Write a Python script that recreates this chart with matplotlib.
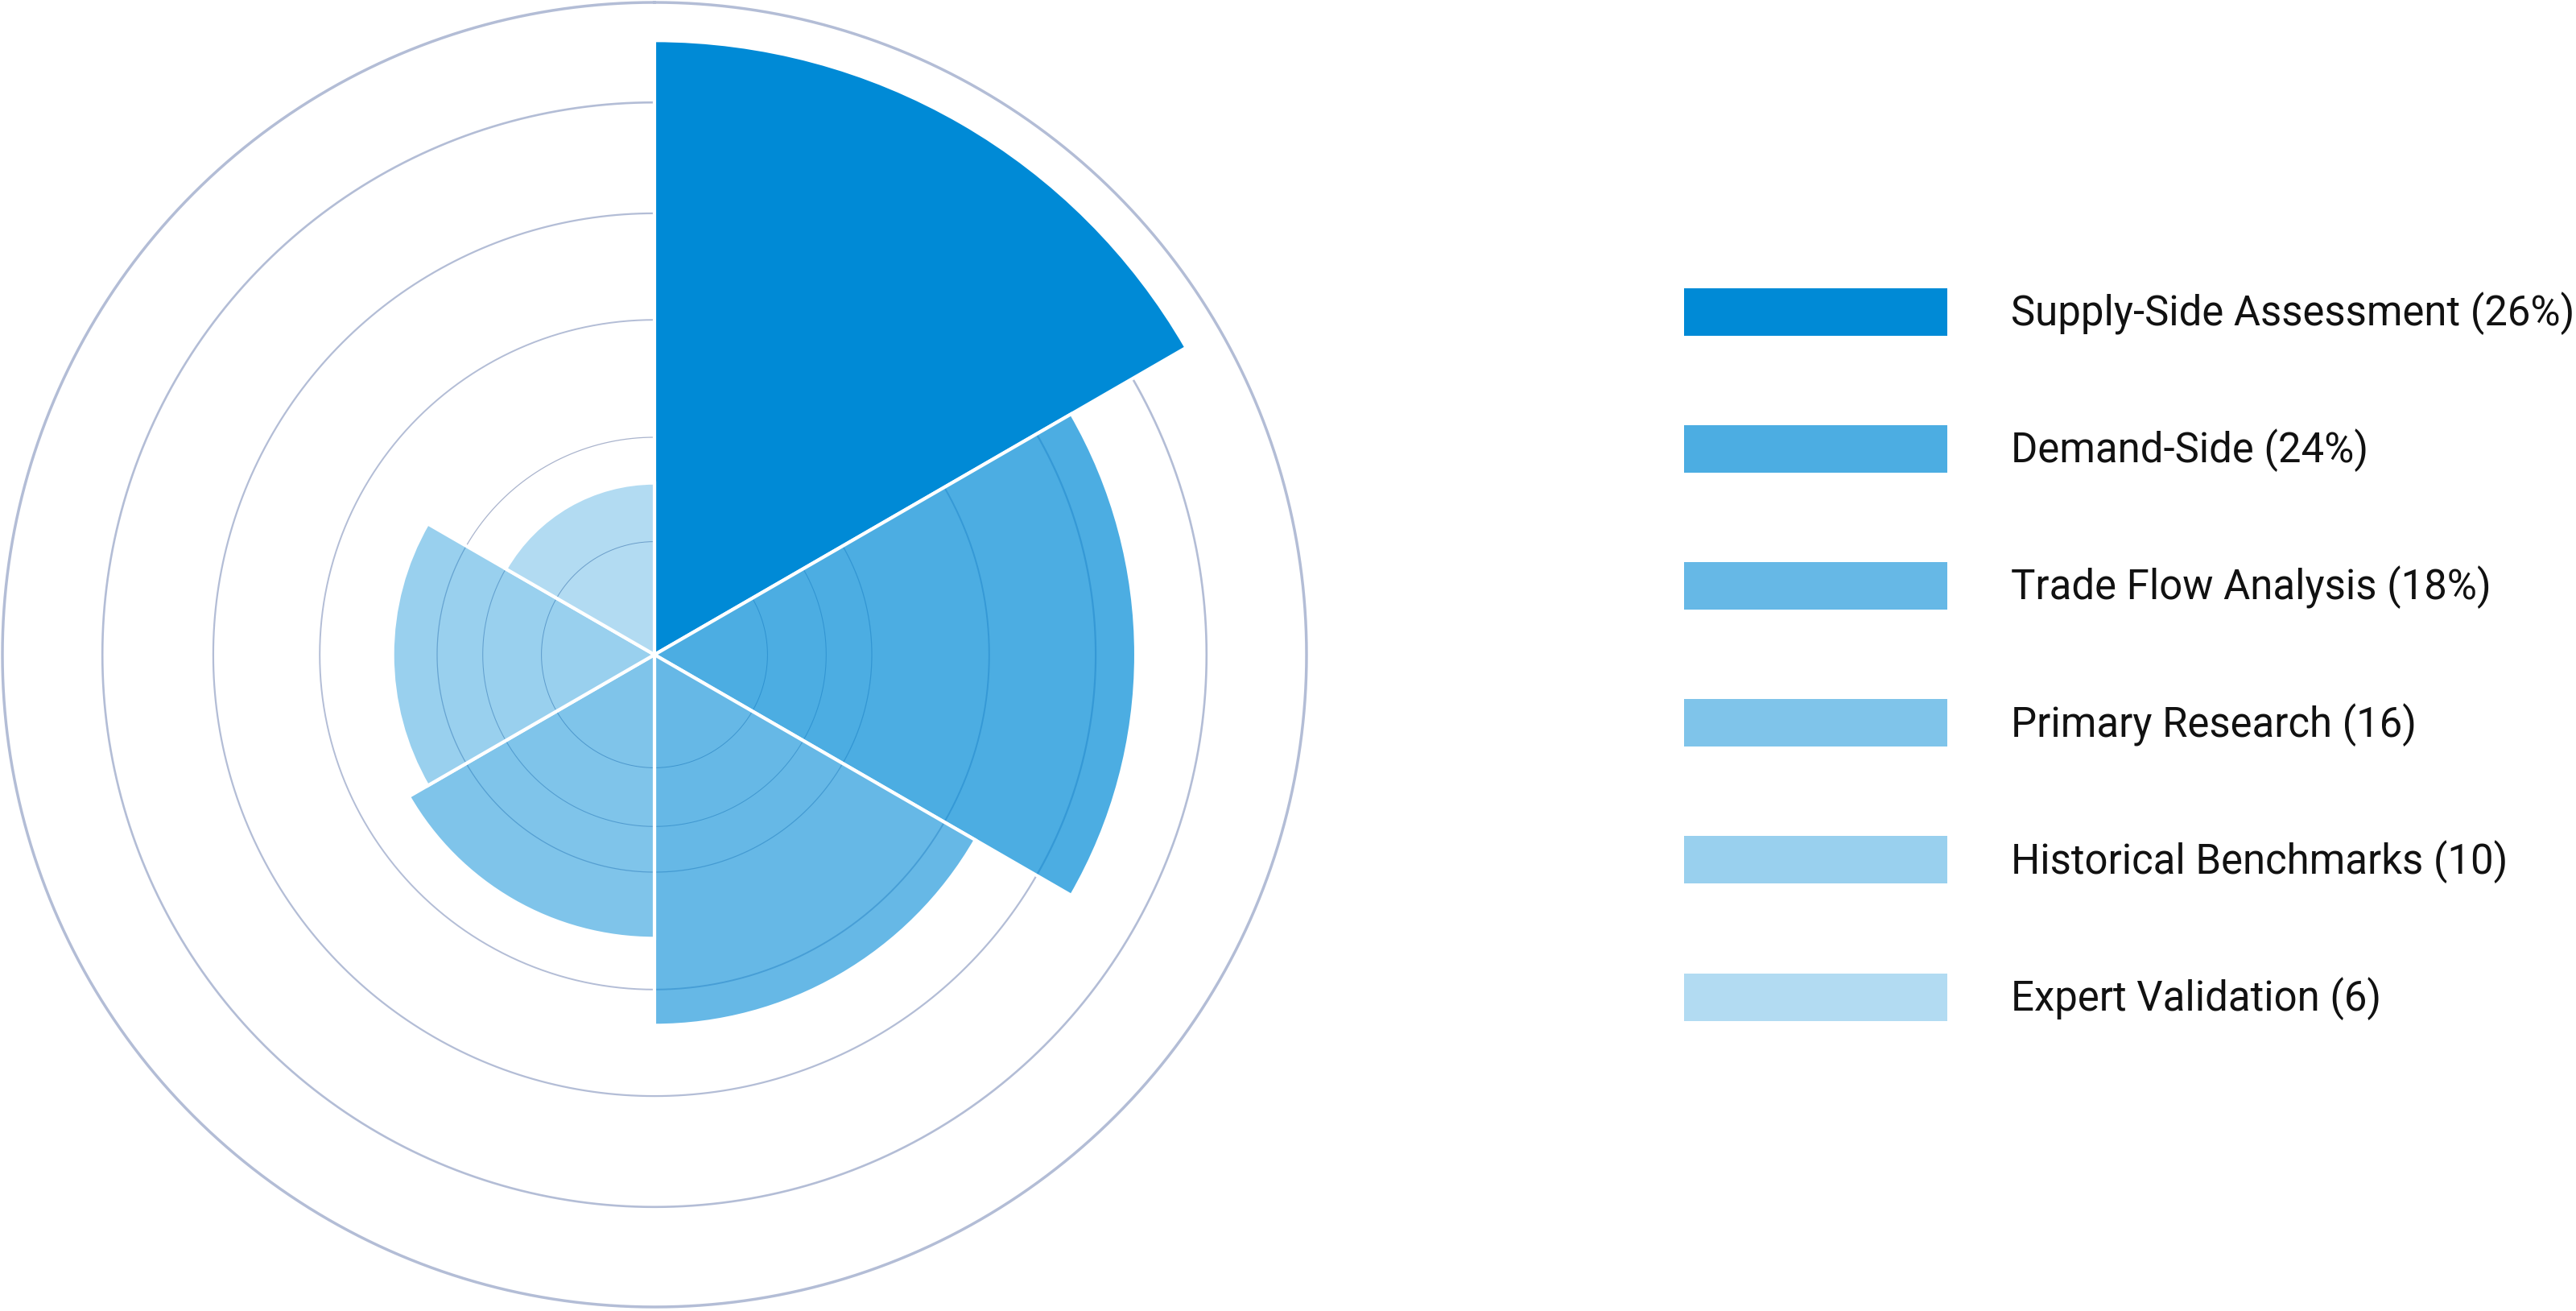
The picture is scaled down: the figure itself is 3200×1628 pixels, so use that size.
import numpy as np
import matplotlib
matplotlib.use("Agg")
import matplotlib.pyplot as plt
from matplotlib.patches import Rectangle
from matplotlib.colors import to_rgba

plt.rcParams['font.family'] = ['Roboto', 'DejaVu Sans']

# ---- data ----
categories = ["Supply-Side Assessment", "Demand-Side", "Trade Flow Analysis",
              "Primary Research", "Historical Benchmarks", "Expert Validation"]
legend_values = ["(26%)", "(24%)", "(18%)", "(16)", "(10)", "(6)"]
bar_radius = [28.25, 22.15, 17.05, 13.05, 12.05, 7.9]
ring_values = [5.2, 7.9, 10.0, 15.4, 20.3, 25.4, 30.0]
radial_max = 30.0

base_color = "#008AD6"
alphas = [1.0, 0.7, 0.6, 0.5, 0.4, 0.3]
ring_widths = [0.7, 0.75, 0.9, 1.4, 1.6, 1.9, 2.5]
ring_colors = ["#9aa6c4", "#a3aec9", "#aab4cd", "#b3bdd6", "#b3bdd6", "#b3bdd6", "#b3bdd6"]

W, H = 3200, 1628
fig = plt.figure(figsize=(W / 100, H / 100), dpi=100)
fig.patch.set_facecolor("white")

cx, cy, R = 813, 813, 810
ax = fig.add_axes([(cx - R) / W, (H - cy - R) / H, 2 * R / W, 2 * R / H], projection="polar")
ax.set_theta_zero_location("N")
ax.set_theta_direction(-1)
ax.set_ylim(0, radial_max)
ax.grid(False)
ax.set_xticks([])
ax.set_yticks([])
ax.spines["polar"].set_visible(False)
ax.set_facecolor("none")

n = len(categories)
width = 2 * np.pi / n
theta = np.arange(n) * width + width / 2

th = np.linspace(0, 2 * np.pi, 721)
for rv, lw, rc in zip(ring_values, ring_widths, ring_colors):
    ax.plot(th, np.full_like(th, rv), color=rc, lw=lw, zorder=1, clip_on=False)

face = [to_rgba(base_color, a) for a in alphas]
ax.bar(theta, bar_radius, width=width, bottom=0, color=face,
       edgecolor="white", linewidth=3.0, zorder=2)

# ---- legend ----
lax = fig.add_axes([0, 0, 1, 1])
lax.set_xlim(0, W)
lax.set_ylim(H, 0)
lax.axis("off")
for i, (cat, val) in enumerate(zip(categories, legend_values)):
    yc = 387 + i * 170.2
    lax.add_patch(Rectangle((2092, yc - 29.5), 327, 59, facecolor=face[i], edgecolor="none"))
    lax.text(2498, yc + 17, f"{cat} {val}", fontsize=36.6, color="#111111",
             va="baseline", ha="left")

fig.savefig("out.png", dpi=100, facecolor="white")
